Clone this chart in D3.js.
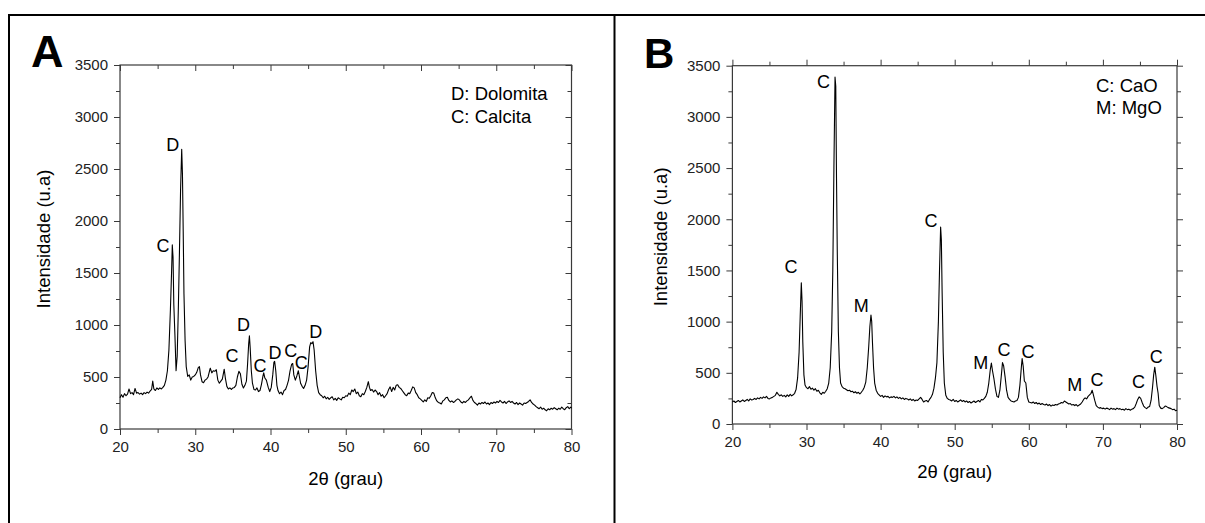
<!DOCTYPE html>
<html><head><meta charset="utf-8">
<script src="https://cdn.jsdelivr.net/npm/d3@7"></script>
<style>
body{margin:0;background:#fff}
svg{display:block}
text{font-family:"Liberation Sans",Arial,Helvetica,sans-serif}
</style>
</head><body>
<svg id="chart" width="1205" height="523"></svg>
<script>
// ---------- DATA ----------
// Panel A: XRD pattern of raw dolomite (2θ in degrees, intensity u.a)
const patternA = [
[20.0,300],[20.2,330],[20.4,305],[20.6,340],[20.8,320],[21.0,335],[21.2,385],[21.4,340],[21.6,350],[21.8,330],
[22.0,390],[22.2,345],[22.4,350],[22.6,335],[22.8,345],[23.0,330],[23.2,350],[23.4,340],[23.6,355],[23.8,345],
[24.0,365],[24.2,380],[24.35,460],[24.5,385],[24.7,370],[24.9,395],[25.1,380],[25.3,395],[25.5,385],[25.7,400],
[25.9,420],[26.1,470],[26.3,560],[26.5,760],[26.7,1150],[26.85,1500],[26.95,1770],[27.05,1650],[27.15,1200],[27.3,900],
[27.45,560],[27.6,700],[27.75,1150],[27.9,1700],[28.05,2300],[28.2,2690],[28.3,2450],[28.4,1900],[28.5,1300],[28.65,850],
[28.8,600],[29.0,505],[29.2,520],[29.4,470],[29.6,500],[29.8,505],[30.0,520],[30.2,545],[30.4,590],[30.55,600],
[30.7,520],[30.9,455],[31.1,445],[31.3,470],[31.5,480],[31.7,500],[31.9,560],[32.0,585],[32.2,540],[32.4,560],
[32.6,555],[32.8,570],[33.0,470],[33.2,440],[33.4,460],[33.6,480],[33.85,575],[34.0,490],[34.2,410],[34.4,385],
[34.6,395],[34.8,380],[35.0,395],[35.2,400],[35.4,420],[35.6,500],[35.8,555],[36.0,530],[36.2,430],[36.4,395],
[36.6,420],[36.8,460],[36.95,620],[37.1,820],[37.2,895],[37.3,780],[37.45,560],[37.6,440],[37.8,380],[38.0,375],
[38.2,395],[38.4,360],[38.6,370],[38.8,430],[39.0,510],[39.1,540],[39.25,490],[39.45,470],[39.7,400],[39.9,360],
[40.1,400],[40.3,520],[40.45,640],[40.55,650],[40.7,560],[40.85,420],[41.0,370],[41.2,340],[41.4,355],[41.6,330],
[41.8,370],[42.0,380],[42.2,420],[42.4,470],[42.6,560],[42.8,620],[42.95,630],[43.1,520],[43.3,470],[43.5,510],
[43.7,560],[43.85,500],[44.0,440],[44.2,410],[44.4,390],[44.6,420],[44.8,470],[45.0,600],[45.2,790],[45.35,830],
[45.5,820],[45.65,840],[45.8,760],[46.0,560],[46.2,420],[46.4,350],[46.6,330],[46.8,320],[47.0,300],[47.2,315],
[47.4,290],[47.6,305],[47.8,285],[48.0,300],[48.2,310],[48.4,280],[48.6,295],[48.8,275],[49.0,300],[49.2,290],
[49.4,280],[49.6,305],[49.8,300],[50.0,320],[50.2,315],[50.4,345],[50.6,330],[50.8,375],[51.0,360],[51.2,385],
[51.4,340],[51.6,355],[51.8,320],[52.0,310],[52.2,340],[52.4,330],[52.6,360],[52.8,400],[53.0,455],[53.15,400],
[53.3,370],[53.5,380],[53.7,355],[53.9,375],[54.1,360],[54.3,330],[54.5,350],[54.7,315],[54.9,330],[55.1,300],
[55.3,320],[55.5,340],[55.7,380],[55.9,405],[56.1,360],[56.3,400],[56.5,375],[56.7,420],[56.9,425],[57.1,400],
[57.3,390],[57.5,370],[57.7,350],[57.9,330],[58.1,320],[58.3,345],[58.5,340],[58.7,370],[58.9,405],[59.1,395],
[59.3,350],[59.5,330],[59.7,300],[59.9,290],[60.1,275],[60.3,260],[60.5,280],[60.7,265],[60.9,300],[61.1,295],
[61.3,320],[61.5,350],[61.7,345],[61.9,300],[62.1,270],[62.3,255],[62.5,250],[62.7,240],[62.9,270],[63.1,280],
[63.3,300],[63.5,305],[63.7,275],[63.9,260],[64.1,270],[64.3,255],[64.5,265],[64.7,280],[64.9,290],[65.1,280],
[65.3,260],[65.5,250],[65.7,265],[65.9,255],[66.1,270],[66.3,280],[66.5,300],[66.7,315],[66.9,275],[67.1,255],
[67.3,245],[67.5,230],[67.7,250],[67.9,240],[68.1,255],[68.3,245],[68.5,260],[68.7,240],[68.9,250],[69.1,235],
[69.3,255],[69.5,245],[69.7,260],[69.9,250],[70.1,265],[70.3,255],[70.5,275],[70.7,260],[70.9,250],[71.1,265],
[71.3,245],[71.5,260],[71.7,270],[71.9,255],[72.1,265],[72.3,250],[72.5,240],[72.7,255],[72.9,235],[73.1,250],
[73.3,240],[73.5,230],[73.7,250],[73.9,245],[74.1,255],[74.3,265],[74.5,280],[74.7,255],[74.9,240],[75.1,230],
[75.3,215],[75.5,205],[75.7,195],[75.9,210],[76.1,190],[76.3,200],[76.5,185],[76.7,175],[76.9,195],[77.1,185],
[77.3,200],[77.5,190],[77.7,205],[77.9,195],[78.1,185],[78.3,200],[78.5,190],[78.7,210],[78.9,195],[79.1,185],
[79.3,205],[79.5,215],[79.7,195],[79.9,210],[80.0,200]
];

// Panel B: XRD pattern of calcined dolomite
const patternB = [
[20.0,215],[20.2,225],[20.4,210],[20.6,220],[20.8,230],[21.0,215],[21.2,225],[21.4,235],[21.6,220],[21.8,230],
[22.0,240],[22.2,225],[22.4,245],[22.6,235],[22.8,240],[23.0,250],[23.2,240],[23.4,255],[23.6,245],[23.8,260],
[24.0,250],[24.2,265],[24.4,255],[24.6,270],[24.8,250],[25.0,245],[25.2,255],[25.4,260],[25.6,270],[25.8,280],
[26.0,310],[26.2,290],[26.4,275],[26.6,285],[26.8,270],[27.0,280],[27.2,265],[27.4,285],[27.6,270],[27.8,290],
[28.0,275],[28.2,285],[28.4,300],[28.6,340],[28.8,450],[29.0,700],[29.15,1050],[29.3,1380],[29.4,1200],[29.5,800],
[29.65,480],[29.8,380],[30.0,355],[30.2,345],[30.4,365],[30.6,340],[30.8,350],[31.0,330],[31.2,345],[31.4,320],
[31.6,330],[31.8,305],[32.0,290],[32.2,310],[32.4,300],[32.6,320],[32.8,345],[33.0,400],[33.2,550],[33.4,900],
[33.55,1500],[33.7,2500],[33.85,3390],[33.95,3300],[34.05,2400],[34.15,1700],[34.3,900],[34.45,550],[34.6,400],[34.8,365],
[35.0,350],[35.2,345],[35.4,335],[35.6,325],[35.8,330],[36.0,315],[36.2,320],[36.4,305],[36.6,315],[36.8,300],
[37.0,310],[37.2,295],[37.4,310],[37.6,330],[37.8,360],[38.0,410],[38.2,550],[38.4,760],[38.55,950],[38.7,1065],
[38.8,1000],[38.9,800],[39.05,550],[39.2,400],[39.4,330],[39.6,300],[39.8,285],[40.0,270],[40.2,280],[40.4,260],
[40.6,275],[40.8,265],[41.0,270],[41.2,255],[41.4,265],[41.6,260],[41.8,270],[42.0,255],[42.2,265],[42.4,250],
[42.6,260],[42.8,245],[43.0,255],[43.2,240],[43.4,250],[43.6,245],[43.8,235],[44.0,245],[44.2,230],[44.4,240],
[44.6,225],[44.8,235],[45.0,230],[45.2,245],[45.4,260],[45.6,240],[45.8,215],[46.0,225],[46.2,230],[46.4,215],
[46.6,240],[46.8,260],[47.0,290],[47.2,350],[47.4,450],[47.6,600],[47.8,1000],[47.95,1500],[48.1,1925],[48.2,1800],
[48.3,1300],[48.45,700],[48.6,400],[48.8,280],[49.0,250],[49.2,240],[49.4,235],[49.6,225],[49.8,240],[50.0,220],
[50.2,230],[50.4,215],[50.6,225],[50.8,235],[51.0,220],[51.2,230],[51.4,215],[51.6,225],[51.8,210],[52.0,220],
[52.2,205],[52.4,215],[52.6,225],[52.8,210],[53.0,220],[53.2,230],[53.4,215],[53.6,240],[53.8,235],[54.0,250],
[54.2,270],[54.4,310],[54.6,400],[54.8,530],[54.95,595],[55.1,520],[55.3,440],[55.5,340],[55.7,270],[55.9,260],
[56.1,330],[56.3,480],[56.45,600],[56.6,570],[56.8,460],[57.0,330],[57.2,260],[57.4,240],[57.6,225],[57.8,220],
[58.0,215],[58.2,225],[58.4,230],[58.6,260],[58.8,380],[59.0,560],[59.1,640],[59.25,560],[59.4,420],[59.6,400],
[59.8,260],[60.0,215],[60.2,210],[60.4,205],[60.6,215],[60.8,200],[61.0,210],[61.2,195],[61.4,205],[61.6,190],
[61.8,200],[62.0,190],[62.2,185],[62.4,195],[62.6,180],[62.8,190],[63.0,175],[63.2,185],[63.4,180],[63.6,190],
[63.8,185],[64.0,195],[64.2,200],[64.4,210],[64.6,205],[64.8,225],[65.0,215],[65.2,205],[65.4,195],[65.6,200],
[65.8,185],[66.0,190],[66.2,180],[66.4,190],[66.6,175],[66.8,185],[67.0,195],[67.2,215],[67.4,240],[67.6,255],
[67.8,245],[68.0,270],[68.2,285],[68.4,300],[68.55,330],[68.7,290],[68.9,230],[69.1,180],[69.3,165],[69.5,155],
[69.7,160],[69.9,150],[70.1,155],[70.3,145],[70.5,155],[70.7,150],[70.9,140],[71.1,155],[71.3,145],[71.5,150],
[71.7,140],[71.9,155],[72.1,145],[72.3,150],[72.5,140],[72.7,145],[72.9,135],[73.1,150],[73.3,140],[73.5,145],
[73.7,135],[73.9,145],[74.1,150],[74.3,165],[74.5,200],[74.7,240],[74.9,265],[75.1,250],[75.3,210],[75.5,175],
[75.7,160],[75.9,150],[76.1,165],[76.3,170],[76.5,230],[76.7,360],[76.85,480],[77.0,555],[77.15,470],[77.3,370],
[77.45,300],[77.6,180],[77.8,155],[78.0,150],[78.2,160],[78.4,175],[78.6,170],[78.8,160],[79.0,155],[79.2,150],
[79.4,140],[79.6,145],[79.8,130],[80.0,135]
];

// Peak annotations: [label, 2θ position, intensity position]
const peakLabelsA = [["C",25.7,1769],["D",27.0,2740],["C",34.9,711],["D",36.4,1000],["C",38.6,609],
                     ["D",40.6,737],["C",42.7,753],["C",44.1,641],["D",46.0,942]];
const peakLabelsB = [["C",27.9,1536],["C",32.3,3343],["M",37.4,1155],["C",46.8,1992],["M",53.5,602],
                     ["C",56.65,732],["C",59.9,706],["M",66.2,381],["C",69.2,430],["C",74.8,413],["C",77.2,657]];

const legendA = ["D: Dolomita","C: Calcita"];
const legendB = ["C: CaO","M: MgO"];
const panelLetters = ["A","B"];

const xTicks = [20,30,40,50,60,70,80];
const xMinorTicks = [25,35,45,55,65,75];
const yTicks = [0,500,1000,1500,2000,2500,3000,3500];
const yMinorTicks = [250,750,1250,1750,2250,2750,3250];
const xTitle = "2\u03B8 (grau)";
const yTitle = "Intensidade (u.a)";

// ---------- DRAWING ----------
const svg = d3.select("#chart");
svg.append("rect").attr("width",1205).attr("height",523).attr("fill","#fff");

// outer frame
const frame = svg.append("g").attr("stroke","#000").attr("stroke-width",2).attr("fill","none");
frame.append("path").attr("d","M8,15H1205");
frame.append("path").attr("d","M9,14V523");
frame.append("path").attr("d","M614.5,14V523");

const panels = [
  {data:patternA, labels:peakLabelsA, legend:legendA, letter:panelLetters[0],
   L:120, R:571.5, T:65, B:429, inward:true,
   legendX:451, legendY:[99.5,122.5], letterX:31, letterY:67, letterSize:45,
   yTitleX:49.5, xTitleY:485},
  {data:patternB, labels:peakLabelsB, legend:legendB, letter:panelLetters[1],
   L:732.4, R:1177, T:65.7, B:424, inward:false,
   legendX:1096, legendY:[91.5,114], letterX:644, letterY:68, letterSize:42,
   yTitleX:666.5, xTitleY:477.5}
];

const axisColor = "#3a3a3a";
const labelColor = "#222";

panels.forEach(p => {
  const x = d3.scaleLinear().domain([20,80]).range([p.L,p.R]);
  const y = d3.scaleLinear().domain([0,3500]).range([p.B,p.T]);
  const g = svg.append("g");

  const styleAxis = sel => {
    sel.select(".domain").remove();
    sel.selectAll(".tick line").attr("stroke",axisColor).attr("stroke-width",1);
    sel.selectAll(".tick text").attr("fill",labelColor).style("font-size","15px")
       .style("font-family","'Liberation Sans',Arial,sans-serif");
  };

  // bottom axis (outward)
  g.append("g").attr("transform",`translate(0,${p.B})`)
    .call(d3.axisBottom(x).tickValues(xTicks).tickSizeInner(6).tickSizeOuter(0).tickPadding(6).tickFormat(d3.format("d")))
    .call(styleAxis);
  g.append("g").attr("transform",`translate(0,${p.B})`)
    .call(d3.axisBottom(x).tickValues(xMinorTicks).tickSizeInner(4).tickSizeOuter(0).tickFormat(""))
    .call(styleAxis);
  // left axis (outward)
  g.append("g").attr("transform",`translate(${p.L},0)`)
    .call(d3.axisLeft(y).tickValues(yTicks).tickSizeInner(6).tickSizeOuter(0).tickPadding(6).tickFormat(d3.format("d")))
    .call(styleAxis);
  g.append("g").attr("transform",`translate(${p.L},0)`)
    .call(d3.axisLeft(y).tickValues(yMinorTicks).tickSizeInner(4).tickSizeOuter(0).tickFormat(""))
    .call(styleAxis);
  // top and right axes (inward for A, outward for B)
  const s = p.inward ? -1 : 1;
  g.append("g").attr("transform",`translate(0,${p.T})`)
    .call(d3.axisTop(x).tickValues(xTicks).tickSizeInner(6*s).tickSizeOuter(0).tickFormat(""))
    .call(styleAxis);
  g.append("g").attr("transform",`translate(0,${p.T})`)
    .call(d3.axisTop(x).tickValues(xMinorTicks).tickSizeInner(4*s).tickSizeOuter(0).tickFormat(""))
    .call(styleAxis);
  g.append("g").attr("transform",`translate(${p.R},0)`)
    .call(d3.axisRight(y).tickValues(yTicks).tickSizeInner(6*s).tickSizeOuter(0).tickFormat(""))
    .call(styleAxis);
  g.append("g").attr("transform",`translate(${p.R},0)`)
    .call(d3.axisRight(y).tickValues(yMinorTicks).tickSizeInner(4*s).tickSizeOuter(0).tickFormat(""))
    .call(styleAxis);

  // plot box
  g.append("rect").attr("x",p.L).attr("y",p.T).attr("width",p.R-p.L).attr("height",p.B-p.T)
    .attr("fill","none").attr("stroke",axisColor).attr("stroke-width",1.2);

  // data line
  const line = d3.line().x(d=>x(d[0])).y(d=>y(d[1]));
  g.append("path").datum(p.data).attr("d",line)
    .attr("fill","none").attr("stroke","#000").attr("stroke-width",1.1).attr("stroke-linejoin","round");

  // peak labels
  g.selectAll("text.peak").data(p.labels).enter().append("text").attr("class","peak")
    .attr("x",d=>x(d[1])).attr("y",d=>y(d[2])).attr("dy","0.36em")
    .attr("text-anchor","middle").attr("fill","#000").style("font-size","18px").text(d=>d[0]);

  // legend text
  p.legend.forEach((t,i)=>{
    g.append("text").attr("x",p.legendX).attr("y",p.legendY[i]).attr("fill","#000")
      .style("font-size","18.5px").text(t);
  });

  // axis titles
  g.append("text").attr("x",(p.L+p.R)/2).attr("y",p.xTitleY).attr("text-anchor","middle")
    .attr("fill","#000").style("font-size","18.5px").text(xTitle);
  g.append("text").attr("transform",`translate(${p.yTitleX},${(p.T+p.B)/2 - 8}) rotate(-90)`)
    .attr("text-anchor","middle").attr("fill","#000").style("font-size","18.5px").text(yTitle);

  // panel letter
  g.append("text").attr("x",p.letterX).attr("y",p.letterY).attr("fill","#000")
    .style("font-size",p.letterSize+"px").style("font-weight","bold").text(p.letter);
});
</script>
</body></html>
